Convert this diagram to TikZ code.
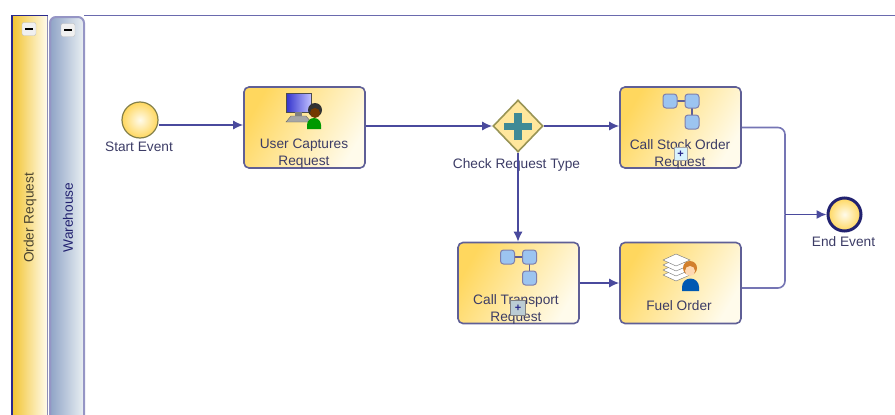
\documentclass[tikz,border=0pt]{standalone}
\usepackage{fontspec}
\setmainfont{Liberation Sans}
\usetikzlibrary{shapes.geometric,arrows.meta,calc}
\definecolor{flow}{HTML}{2A2A8C}
\definecolor{edge}{HTML}{5F5F96}
\definecolor{txt}{HTML}{3C3C66}
\definecolor{gold}{HTML}{FFD75E}
\definecolor{pale}{HTML}{FFFBEB}
\definecolor{nodeblue}{HTML}{9CC4F0}
\definecolor{plusc}{HTML}{3F8A96}
\definecolor{laneblue}{HTML}{8FA3C6}
\definecolor{lanepale}{HTML}{EAF0F3}
\definecolor{lanegold}{HTML}{F2C431}
\definecolor{pooltxt}{HTML}{4A4430}
\tikzset{
  taskbox/.style={draw=edge,line width=1.6pt,rounded corners=5pt,minimum width=121pt,minimum height=81pt,top color=gold,bottom color=pale,shading angle=60,inner sep=0pt},
  lbl/.style={text=txt,font=\fontsize{13.7}{17}\selectfont,align=center,inner sep=0pt},
  lanelbl/.style={font=\fontsize{13.7}{15}\selectfont,inner sep=0pt,rotate=90},
  conn/.style={draw=flow!85!white,line width=1.4pt,-{Latex[length=10pt,width=9pt]}},
  plain/.style={draw=flow!65!white,line width=1.6pt,rounded corners=7pt},
  collapse/.style={draw=black!25,fill=black!6,rounded corners=2pt,minimum width=14pt,minimum height=13pt,inner sep=0pt},
  marker/.style={draw=black!35,fill=cyan!15,minimum size=13pt,inner sep=0pt,font=\bfseries\fontsize{11}{11}\selectfont,text=flow},
  sub/.style={draw=edge!80,line width=1pt,fill=nodeblue,rounded corners=3pt,minimum size=14pt,inner sep=0pt},
}
\newcommand{\subicon}[2]{%
  \begin{scope}[shift={(#1,#2)}]
    \draw[edge,line width=1.2pt] (-11,0) -- (11,0) -- (11,21);
    \node[sub] at (-11,0) {};
    \node[sub] at (11,0) {};
    \node[sub] at (11,21) {};
  \end{scope}}
\begin{document}
\begin{tikzpicture}[x=1pt,y=-1pt]
\useasboundingbox (0,0) rectangle (895,415);
% pool and lane
\draw[flow!70!white,line width=1.4pt] (84,15.5) -- (895,15.5);
\path[left color=lanegold,right color=pale] (12,16) rectangle (47,415);
\draw[flow,line width=1.6pt] (12,415) -- (12,15.5) -- (48,15.5);
\draw[edge!70,line width=1.2pt] (47.5,16) -- (47.5,415);
\draw[left color=laneblue,right color=lanepale,draw=flow!50!white,line width=2pt,rounded corners=6pt] (50,415.5) -- (50,17) -- (84,17) -- (84,415.5);
\node[collapse] (c1) at (29,29) {\rule{8pt}{2pt}};
\node[collapse] (c2) at (68,30) {\rule{8pt}{2pt}};
\node[lanelbl,text=pooltxt] (pool) at (30,218) {Order Request};
\node[lanelbl,text=flow!80!black] (lane) at (68,217.5) {Warehouse};
% flow objects
\node[circle,draw=black!55!yellow,line width=1.2pt,minimum size=36pt,inner sep=0pt,inner color=pale,outer color=gold] (start) at (140,120) {};
\node[lbl] (startl) at (139,147) {Start Event};
\node[taskbox] (capture) at (304.5,127.5) {};
\node[diamond,draw=black!45!yellow!80!gray,line width=1.6pt,minimum width=50pt,minimum height=52pt,inner sep=0pt,fill=gold!55!pale] (gate) at (518,126) {};
\node[lbl] (gatel) at (516.5,165) {Check Request Type};
\node[taskbox] (stock) at (680.5,127.5) {};
\node[taskbox] (transport) at (518.5,283) {};
\node[taskbox] (fuel) at (680.5,283) {};
\node[circle,draw=flow!80!black,line width=3pt,minimum size=33pt,inner sep=0pt,inner color=pale,outer color=gold] (endev) at (844.5,214.5) {};
\node[lbl] (endl) at (843.5,242) {End Event};
\coordinate (j) at (785,214.5);
% connectors
\draw[conn] ([yshift=-5pt]start.east) -- ([yshift=-5pt]start.east -| capture.west);
\draw[conn] (capture.east |- gate.west) -- (gate.west);
\draw[conn] (gate.east) -- (gate.east -| stock.west);
\draw[conn] (gate.south) -- (gate.south |- transport.north);
\draw[conn] (transport.east) -- (fuel.west);
\draw[plain] (stock.east) -| (j);
\draw[plain] ([yshift=-5pt]fuel.east) -| (j);
\draw[conn] (j) -- (endev.west);
% gateway plus
\fill[plusc] (514,113) rectangle (521.5,140);
\fill[plusc] (504,122.5) rectangle (531.5,130);
% task labels
\node[lbl] (l1) at (304,154) {User Captures\\Request};
\node[lbl] (l2) at (680,154) {Call Stock Order\\Request};
\node[lbl] (l3) at (516,309) {Call Transport\\Request};
\node[lbl] (l4) at (679,306) {Fuel Order};
% computer icon
\begin{scope}[shift={(286,93)}]
  \draw[black!60,fill=black!35] (5,23) -- (20,23) -- (25,29) -- (0,29) -- cycle;
  \draw[black!70,left color=blue!60!gray,right color=blue!25!white] (0,0) rectangle (25,19);
  \fill[black!50] (9,19) rectangle (16,23);
\end{scope}
\fill[green!60!black] (307,129) -- (307,125) arc[start angle=180,end angle=360,radius=7] -- (321,129) -- cycle;
\fill[black!80] (315,110) circle (7pt);
\fill[orange!45!black] (315,113) circle (5pt);
% sub-process icons
\subicon{681}{101}
\subicon{518.5}{257}
\node[marker] (m1) at (680.5,154) {+};
\node[marker,draw=black!50,fill=cyan!25!gray!50,minimum size=15pt] (m2) at (518,308) {+};
% stack and person icon
\begin{scope}[shift={(663,254)}]
  \foreach \yy in {18,13,8,3}{
    \draw[black!55,fill=white] (0,\yy+3) -- (13,\yy-3) -- (27,\yy+3) -- (13,\yy+9) -- cycle;
  }
\end{scope}
\fill[blue!50!cyan!70!black] (682,291) -- (682,287) arc[start angle=180,end angle=360,radius=8.5] -- (699,291) -- cycle;
\fill[brown!70!orange] (690,268) circle (7pt);
\fill[orange!30] (690,271) circle (5pt);
\end{tikzpicture}
\end{document}
